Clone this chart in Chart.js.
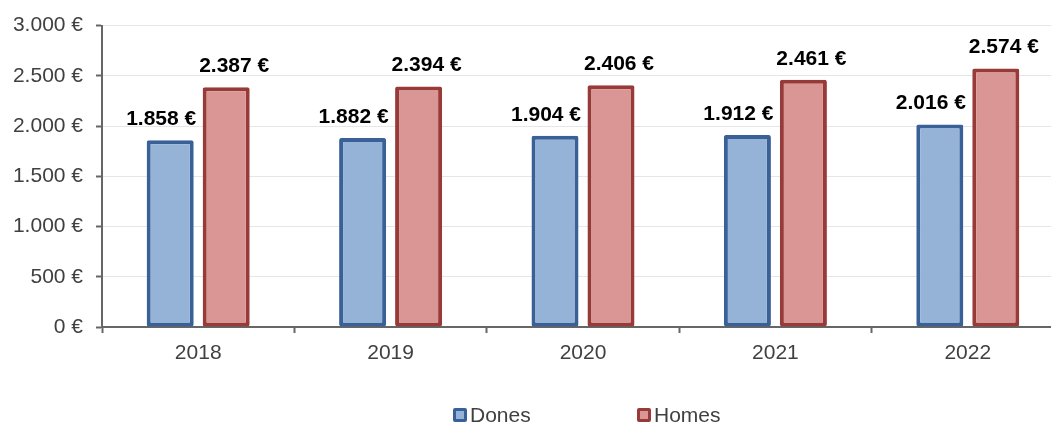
<!DOCTYPE html>
<html>
<head>
<meta charset="utf-8">
<script src="https://cdn.jsdelivr.net/npm/chart.js@4/dist/chart.umd.min.js"></script>
<style>
  html, body { margin: 0; padding: 0; background: #fff; overflow: hidden; width: 1051px; height: 423px; }
  #wrap { position: relative; width: 1066px; height: 423px; }
  #legend { position: absolute; left: 0; top: 405px; width: 1051px; height: 20px;
            font-family: "Liberation Sans", Arial, sans-serif; font-size: 21px; color: #404040; }
  .item { position: absolute; top: 0; display: flex; align-items: center; line-height: 20px; }
  .box { width: 8px; height: 8px; border-width: 3px; border-style: solid; border-radius: 2px; margin-right: 3px; }
</style>
</head>
<body>
<div id="wrap">
  <canvas id="chart" width="1066" height="423"></canvas>
  <div id="legend"></div>
</div>
<script>
var years = ['2018', '2019', '2020', '2021', '2022'];
var dones = [1858, 1882, 1904, 1912, 2016];
var homes = [2387, 2394, 2406, 2461, 2574];
var seriesNames = ['Dones', 'Homes'];
var fills = ['#95b3d7', '#da9694'];
var borders = ['#3a6197', '#983a37'];

function euro(n) {
    return String(n).replace(/\B(?=(\d{3})+(?!\d))/g, '.') + ' €';
}

var FONT = '"Liberation Sans", Arial, sans-serif';

var labelPlugin = {
    id: 'barLabels',
    afterDatasetsDraw: function (chart) {
        var ctx = chart.ctx;
        var shift = [-9, 8];
        ctx.save();
        ctx.font = 'bold 21px ' + FONT;
        ctx.fillStyle = '#000';
        ctx.textAlign = 'center';
        ctx.textBaseline = 'middle';
        chart.data.datasets.forEach(function (ds, i) {
            chart.getDatasetMeta(i).data.forEach(function (bar, j) {
                ctx.fillText(euro(ds.data[j]), bar.x + shift[i], bar.y - 21);
            });
        });
        ctx.restore();
    }
};

new Chart(document.getElementById('chart'), {
    type: 'bar',
    data: {
        labels: years,
        datasets: [{
                label: seriesNames[0],
                data: dones,
                backgroundColor: fills[0],
                borderColor: borders[0],
                borderWidth: 4,
                borderRadius: 2,
                borderSkipped: false
            },
            {
                label: seriesNames[1],
                data: homes,
                backgroundColor: fills[1],
                borderColor: borders[1],
                borderWidth: 4,
                borderRadius: 2,
                borderSkipped: false
            }
        ]
    },
    options: {
        responsive: false,
        animation: false,
        devicePixelRatio: 1,
        datasets: {
            bar: { categoryPercentage: 0.582, barPercentage: 0.84 }
        },
        layout: {
            padding: { top: 23, right: 2, left: 0, bottom: 0 }
        },
        plugins: {
            legend: { display: false },
            tooltip: { enabled: false }
        },
        scales: {
            x: {
                afterFit: function (s) { s.height = 96; },
                grid: { drawOnChartArea: false, drawTicks: true, tickLength: 6, tickColor: '#666', tickWidth: 2, offset: true },
                border: { color: '#666', width: 2 },
                ticks: { color: '#404040', font: { family: FONT, size: 21 }, padding: 8 }
            },
            y: {
                min: 0,
                max: 3000,
                afterFit: function (s) { s.width = 102; },
                grid: { color: '#e6e6e6', lineWidth: 1, drawTicks: true, tickLength: 6, tickColor: '#666', tickWidth: 2 },
                border: { color: '#666', width: 2 },
                ticks: {
                    stepSize: 500,
                    color: '#404040',
                    font: { family: FONT, size: 21 },
                    padding: 13,
                    callback: function (v) { return euro(v); }
                }
            }
        }
    },
    plugins: [labelPlugin]
});

// legend below the chart
var legend = document.getElementById('legend');
var lefts = [453, 637];
seriesNames.forEach(function (name, i) {
    var item = document.createElement('div');
    item.className = 'item';
    item.style.left = lefts[i] + 'px';
    var box = document.createElement('div');
    box.className = 'box';
    box.style.background = fills[i];
    box.style.borderColor = borders[i];
    item.appendChild(box);
    item.appendChild(document.createTextNode(name));
    legend.appendChild(item);
});
</script>
</body>
</html>
